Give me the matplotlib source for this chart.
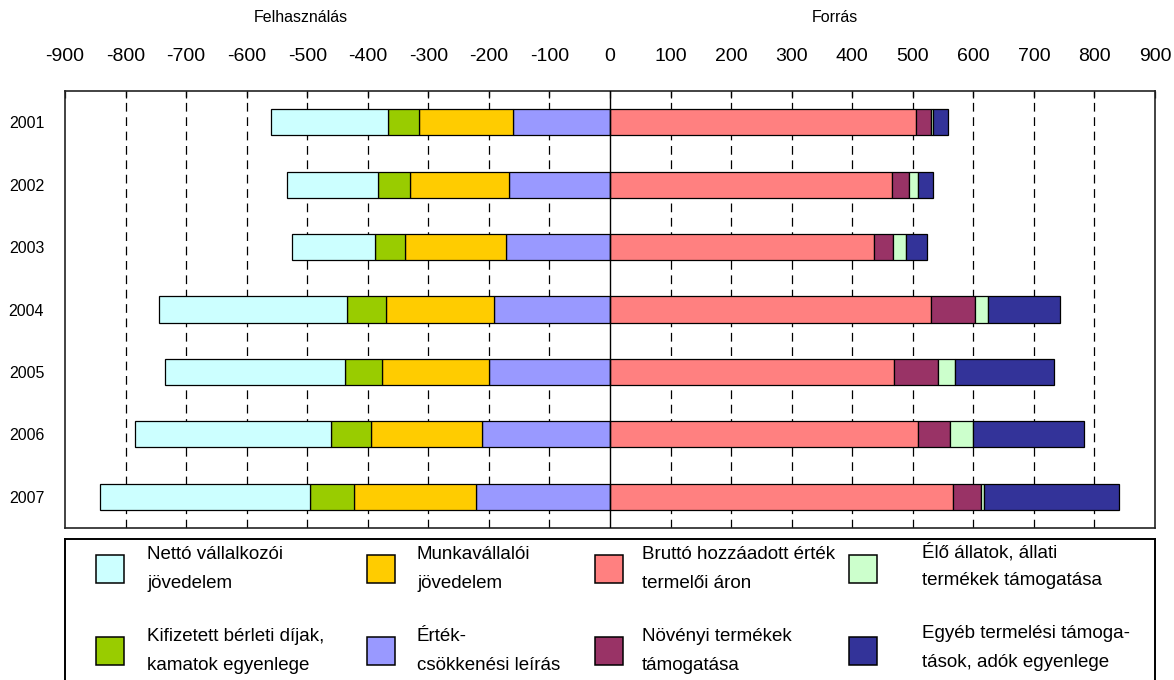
import numpy as np
import matplotlib.pyplot as plt
from matplotlib.patches import Rectangle

plt.rcParams['font.family'] = ['Liberation Sans', 'DejaVu Sans']

# years (top to bottom)
years = ['2001', '2002', '2003', '2004', '2005', '2006', '2007']

# Felhasználás (uses) - drawn to the left of zero
netto_vallalkozoi = [192, 150, 137, 311, 298, 323, 347]
berleti_kamat = [52, 52, 49, 64, 61, 67, 73]
munkavallaloi = [155, 164, 167, 179, 176, 183, 201]
ertekcsokkenes = [160, 167, 172, 191, 200, 211, 221]

# Forrás (sources) - drawn to the right of zero
brutto_hozzaadott = [505, 466, 436, 530, 469, 508, 567]
novenyi_tamogatas = [25, 27, 31, 73, 73, 53, 46]
allati_tamogatas = [3, 15, 21, 21, 27, 39, 5]
egyeb_tamogatas = [25, 25, 36, 119, 165, 183, 222]

xticks = list(range(-900, 901, 100))

left_series = [
    (ertekcsokkenes, '#9999FF', 'Érték-\ncsökkenési leírás'),
    (munkavallaloi, '#FFCC00', 'Munkavállalói\njövedelem'),
    (berleti_kamat, '#99CC00', 'Kifizetett bérleti díjak,\nkamatok egyenlege'),
    (netto_vallalkozoi, '#CCFFFF', 'Nettó vállalkozói\njövedelem'),
]
right_series = [
    (brutto_hozzaadott, '#FF8080', 'Bruttó hozzáadott érték\ntermelői áron'),
    (novenyi_tamogatas, '#993366', 'Növényi termékek\ntámogatása'),
    (allati_tamogatas, '#CCFFCC', 'Élő állatok, állati\ntermékek támogatása'),
    (egyeb_tamogatas, '#333399', 'Egyéb termelési támoga-\ntások, adók egyenlege'),
]

W, H = 1174, 680
fig = plt.figure(figsize=(W / 100, H / 100), dpi=100)
ax = fig.add_axes([65 / W, 1 - 528 / H, 1090 / W, 437 / H])

y = np.arange(len(years))
bar_h = 0.42

# stack outward from zero on both sides
acc = np.zeros(len(years))
for vals, col, lab in left_series:
    v = np.array(vals, dtype=float)
    ax.barh(y, -v, left=-acc, height=bar_h, color=col, edgecolor='black',
            linewidth=0.9, zorder=3)
    acc += v

acc = np.zeros(len(years))
for vals, col, lab in right_series:
    v = np.array(vals, dtype=float)
    ax.barh(y, v, left=acc, height=bar_h, color=col, edgecolor='black',
            linewidth=0.9, zorder=3)
    acc += v

ax.set_xlim(-900, 900)
ax.set_ylim(len(years) - 0.5, -0.5)

# dashed vertical gridlines, solid line at zero
for t in xticks:
    if t == 0:
        ax.axvline(0, color='black', linewidth=1.0, zorder=4)
    elif abs(t) < 900:
        ax.axvline(t, color='black', linewidth=0.9, linestyle=(0, (7, 4.5)), zorder=1)

ax.xaxis.tick_top()
ax.set_xticks(xticks)
ax.set_xticklabels([str(t) for t in xticks])
ax.tick_params(axis='x', direction='in', length=5, width=0.9, pad=19, labelsize=14)
ax.set_yticks(y)
ax.set_yticklabels(years)
ax.tick_params(axis='y', length=0, pad=15, labelsize=11.5)
for s in ax.spines.values():
    s.set_linewidth(1.2)
    s.set_color('#222222')

fig.text(301 / W, 1 - 18 / H, 'Felhasználás', ha='center', va='center', fontsize=11.5)
fig.text(835 / W, 1 - 18 / H, 'Forrás', ha='center', va='center', fontsize=11.5)

# legend box, laid out in pixel units
lax = fig.add_axes([65 / W, -0.03, 1090 / W, (H - 539) / H + 0.03])
lax.set_xlim(65, 1155)
lax.set_ylim(H + 0.03 * H, 539)
lax.set_xticks([])
lax.set_yticks([])
for s in lax.spines.values():
    s.set_linewidth(1.4)
    s.set_color('black')

col_patch_x = [96, 367, 595, 849]
col_text_x = [147, 417, 642, 922]
row_y = [569, 651]
entries = [left_series[3], left_series[2], left_series[1], left_series[0],
           right_series[0], right_series[1], right_series[2], right_series[3]]
for i, (vals, col, lab) in enumerate(entries):
    c, r = divmod(i, 2)
    yc = row_y[r]
    lax.add_patch(Rectangle((col_patch_x[c], yc - 14), 28, 28, facecolor=col,
                            edgecolor='black', linewidth=1.1))
    # last column text sits a little higher in the original
    ty = yc - 3 if c == 3 else yc
    lax.text(col_text_x[c], ty, lab, ha='left', va='center', fontsize=13.5,
             linespacing=1.85)

fig.savefig('out.png', dpi=100)
